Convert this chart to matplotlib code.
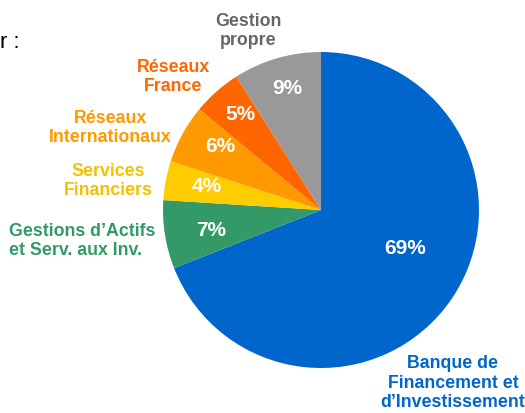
import matplotlib
matplotlib.use('Agg')
from matplotlib import pyplot as plt

plt.rcParams['font.family'] = ['Liberation Sans', 'DejaVu Sans']

segments = ['Banque de\nFinancement et\nd\u2019Investissement',
            'Gestions d\u2019Actifs\net Serv. aux Inv.',
            'Services\nFinanciers',
            'R\u00e9seaux\nInternationaux',
            'R\u00e9seaux\nFrance',
            'Gestion\npropre']
shares = [69, 7, 4, 6, 5, 9]
colors = ['#0066CC', '#339966', '#FFCC00', '#FF9900', '#FF6600', '#999999']
label_colors = ['#0066CC', '#339966', '#F2C200', '#FF9900', '#FF6600', '#666666']

# label positions in pixels of the original picture (x, y from top)
label_px = [(453, 383), (85, 241), (108, 181), (110, 128), (173, 77), (248, 31)]
label_ha = ['center', 'left', 'center', 'center', 'center', 'center']
pct_px = [(405, 248), (211, 230), (207, 186), (220, 147), (240, 114), (287, 89)]

W, H = 525, 413
cx, cy, r = 321, 210, 158

fig = plt.figure(figsize=(W / 100, H / 100), dpi=100)
ax = fig.add_axes([(cx - r) / W, (H - cy - r) / H, 2 * r / W, 2 * r / H])
ax.pie(shares, colors=colors, startangle=90, counterclock=False,
       wedgeprops=dict(linewidth=0))
ax.set_xlim(-1, 1)
ax.set_ylim(-1, 1)
ax.set_aspect('equal')
ax.axis('off')


def to_data(px, py):
    return (px - cx) / r, (cy - py) / r


for lab, col, (px, py), ha in zip(segments, label_colors, label_px, label_ha):
    x, y = to_data(px, py)
    if ha == 'left':
        x = (9 - cx) / r
    ax.text(x, y, lab, color=col, ha=ha, va='center', fontsize=12.8,
            fontweight='bold', linespacing=1.2, clip_on=False)

for v, (px, py) in zip(shares, pct_px):
    x, y = to_data(px, py)
    ax.text(x, y, '{}%'.format(v), color='white', ha='center', va='center',
            fontsize=15, fontweight='bold')

fig.text(0.5 / W, 1 - 42 / H, 'r :', fontsize=16, color='black',
         ha='left', va='center')

fig.savefig('out.png', dpi=100)
